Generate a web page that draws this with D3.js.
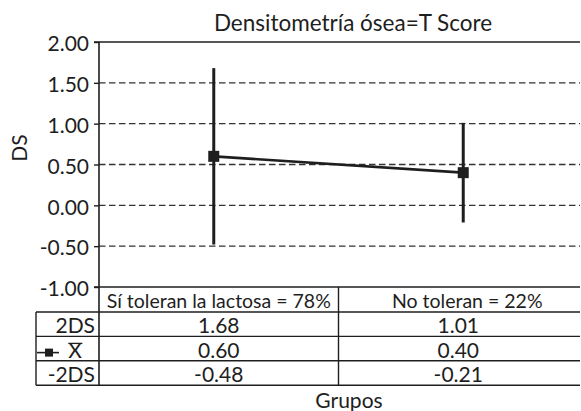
<!DOCTYPE html>
<html>
<head>
<meta charset="utf-8">
<script src="https://cdn.jsdelivr.net/npm/d3@7/dist/d3.min.js"></script>
<style>
  html, body { margin: 0; padding: 0; background: #fff; }
  svg { display: block; }
  text { font-family: Lato, "Open Sans", sans-serif; fill: #1e1e1e; }
</style>
</head>
<body>
<svg id="chart" width="581" height="411"></svg>
<script>
// Bone densitometry (T score) by lactose tolerance group: mean ± 2 SD
const groups = ["Sí toleran la lactosa = 78%", "No toleran = 22%"];
const upper2DS = [1.68, 1.01];
const means = [0.60, 0.40];
const lower2DS = [-0.48, -0.21];
const yTicks = [2.0, 1.5, 1.0, 0.5, 0.0, -0.5, -1.0];
const rowLabels = ["2DS", "X", "-2DS"];

(function draw() {
const ink = "#1e1e1e";
const svg = d3.select("#chart");

const plotLeft = 99, plotRight = 580, plotTop = 42, plotBottom = 287;
const y = d3.scaleLinear().domain([-1, 2]).range([plotBottom, plotTop]);
const x = d3.scalePoint().domain(groups).range([plotLeft, 578]).padding(0.46);
const fmt = v => v.toFixed(2);

// Title
svg.append("text")
  .attr("x", 353).attr("y", 31)
  .attr("text-anchor", "middle")
  .style("font-size", "22.5px")
  .text("Densitometría ósea=T Score");

// Dashed reference lines
svg.append("g")
  .selectAll("line")
  .data(yTicks.filter(v => v > -1 && v < 2))
  .join("line")
  .attr("x1", plotLeft).attr("x2", plotRight)
  .attr("y1", d => y(d)).attr("y2", d => y(d))
  .attr("stroke", "#333").attr("stroke-width", 1.3)
  .attr("stroke-dasharray", "6.5,3.5");

// Y axis with labels
const yAxis = d3.axisLeft(y).tickValues(yTicks).tickFormat(fmt).tickSize(5).tickPadding(5);
const gy = svg.append("g").attr("transform", `translate(${plotLeft},0)`).call(yAxis);
gy.select(".domain").remove();
gy.selectAll(".tick line").attr("stroke", ink).attr("stroke-width", 1.4);
gy.selectAll(".tick text")
  .attr("dy", "0.42em")
  .style("font-size", "21px")
  .style("font-family", "Lato, sans-serif")
  .attr("fill", ink);

// Frame lines: top border and bottom axis
svg.append("line").attr("x1", plotLeft - 5).attr("x2", plotRight).attr("y1", plotTop).attr("y2", plotTop)
  .attr("stroke", ink).attr("stroke-width", 1.6);
svg.append("line").attr("x1", plotLeft - 5).attr("x2", plotRight).attr("y1", plotBottom).attr("y2", plotBottom)
  .attr("stroke", ink).attr("stroke-width", 1.6);

// Y axis title
svg.append("text")
  .attr("transform", "translate(27,148) rotate(-90)")
  .attr("text-anchor", "middle")
  .style("font-size", "21px")
  .text("DS");

// Error bars (±2 SD)
svg.append("g")
  .selectAll("line")
  .data(groups)
  .join("line")
  .attr("x1", d => x(d)).attr("x2", d => x(d))
  .attr("y1", (d, i) => y(upper2DS[i]))
  .attr("y2", (d, i) => y(lower2DS[i]))
  .attr("stroke", ink).attr("stroke-width", 3);

// Line joining the means
svg.append("path")
  .datum(groups)
  .attr("d", d3.line().x(d => x(d)).y((d, i) => y(means[i])))
  .attr("fill", "none").attr("stroke", ink).attr("stroke-width", 2.6);

// Mean markers
const ms = 11;
svg.append("g")
  .selectAll("rect")
  .data(groups)
  .join("rect")
  .attr("x", d => x(d) - ms / 2)
  .attr("y", (d, i) => y(means[i]) - ms / 2)
  .attr("width", ms).attr("height", ms)
  .attr("fill", ink);

// Data table below the axis
const labelLeft = 36;
const headerBottom = 312;
const rowH = 24.4;
const divider = (x(groups[0]) + x(groups[1])) / 2;
const colCenters = [(plotLeft + divider) / 2, (divider + 578) / 2];
const headCenters = [colCenters[0], colCenters[1] + 9];
const rows = [upper2DS, means, lower2DS];
const tableBottom = headerBottom + rowH * rows.length;

const tbl = svg.append("g");
d3.range(rows.length + 1).forEach(r => {
  const yy = headerBottom + r * rowH;
  tbl.append("line").attr("x1", labelLeft).attr("x2", plotRight).attr("y1", yy).attr("y2", yy)
    .attr("stroke", ink).attr("stroke-width", 1.4);
});
tbl.append("line").attr("x1", labelLeft).attr("x2", labelLeft).attr("y1", headerBottom).attr("y2", tableBottom)
  .attr("stroke", ink).attr("stroke-width", 1.4);
tbl.append("line").attr("x1", plotLeft).attr("x2", plotLeft).attr("y1", plotTop).attr("y2", tableBottom)
  .attr("stroke", ink).attr("stroke-width", 1.6);
tbl.append("line").attr("x1", divider).attr("x2", divider).attr("y1", plotBottom).attr("y2", tableBottom)
  .attr("stroke", ink).attr("stroke-width", 1.4);

// Column headers
tbl.selectAll("text.head")
  .data(groups)
  .join("text")
  .attr("class", "head")
  .attr("x", (d, i) => headCenters[i]).attr("y", headerBottom - 4)
  .attr("text-anchor", "middle")
  .style("font-size", "19.5px")
  .text(d => d);

// Cell values
rows.forEach((vals, r) => {
  tbl.selectAll(`text.r${r}`)
    .data(vals)
    .join("text")
    .attr("class", `r${r}`)
    .attr("x", (d, i) => colCenters[i])
    .attr("y", headerBottom + (r + 1) * rowH - 3)
    .attr("text-anchor", "middle")
    .style("font-size", "21px")
    .text(d => fmt(d));
});

// Row labels
rowLabels.forEach((lab, r) => {
  const t = tbl.append("text")
    .attr("x", r === 1 ? 82 : 95)
    .attr("y", headerBottom + (r + 1) * rowH - 3)
    .attr("text-anchor", "end")
    .style("font-size", "21px")
    .text(lab);
  if (r === 1) {
    // bar over the X (mean symbol)
    const bb = t.node().getBBox();
    tbl.append("line")
      .attr("x1", bb.x).attr("x2", bb.x + bb.width)
      .attr("y1", headerBottom + r * rowH + 7).attr("y2", headerBottom + r * rowH + 7)
      .attr("stroke", ink).attr("stroke-width", 1.3);
  }
});

// Legend key for the mean row
const ky = headerBottom + 1.5 * rowH + 4;
tbl.append("line").attr("x1", 37).attr("x2", 59).attr("y1", ky).attr("y2", ky)
  .attr("stroke", ink).attr("stroke-width", 1.6);
tbl.append("rect").attr("x", 45).attr("y", ky - 4).attr("width", 8).attr("height", 8).attr("fill", ink);

// X axis title
svg.append("text")
  .attr("x", 349).attr("y", 408)
  .attr("text-anchor", "middle")
  .style("font-size", "21px")
  .text("Grupos");
})();
</script>
</body>
</html>
